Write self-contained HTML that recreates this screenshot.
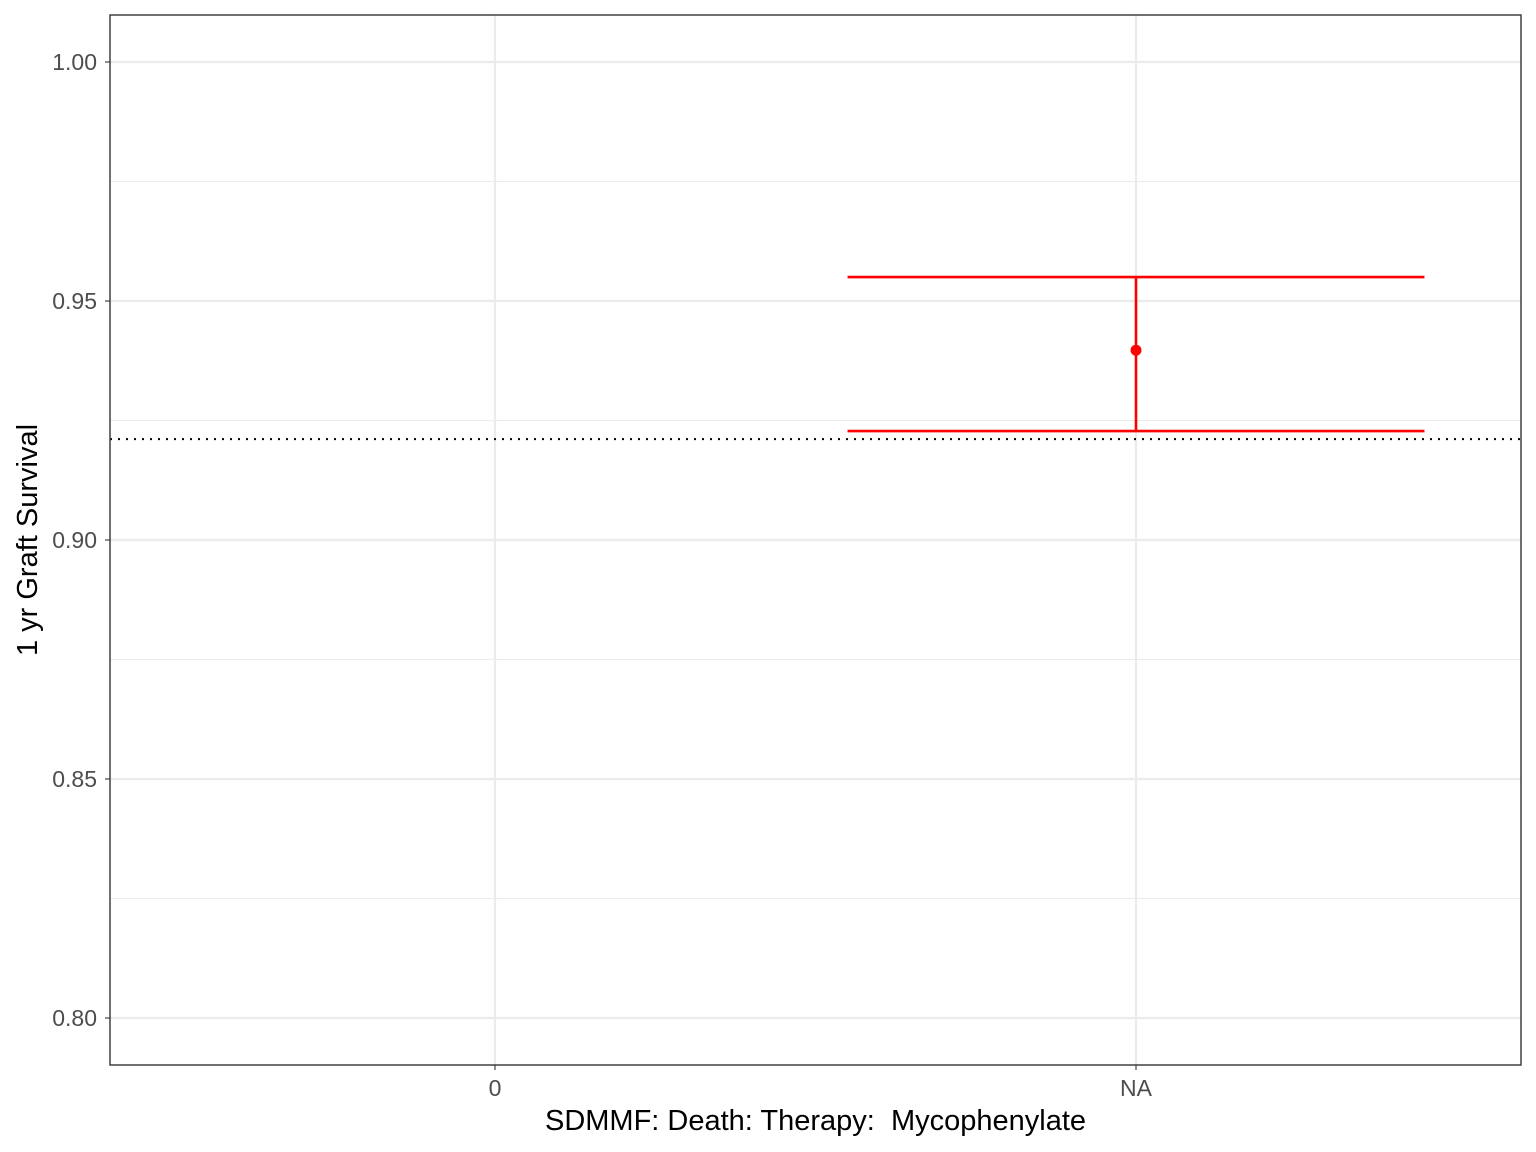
<!DOCTYPE html>
<html><head><meta charset="utf-8"><style>
html,body{margin:0;padding:0;background:#fff;}
svg{display:block;font-family:"Liberation Sans",Arial,sans-serif;}
</style></head><body>
<svg id="chart" width="1536" height="1152" viewBox="0 0 1536 1152"></svg>
<script>
const categories = ["0","NA"];
const pointValues = [null, 0.9397];
const lowerValues = [null, 0.9228];
const upperValues = [null, 0.955];
const referenceValue = [0.9211];
const yTicks = [0.80,0.85,0.90,0.95,1.00];
const yTickLabels = ["0.80","0.85","0.90","0.95","1.00"];
const yMinor = [0.825,0.875,0.925,0.975];

const P={l:110,r:1521,t:15,b:1065};
const yMin=0.79017,yMax=1.00983;
const Y=v=>P.b-(v-yMin)/(yMax-yMin)*(P.b-P.t);
const X=i=>495+i*641;
const bw=641*0.9/2;
const NS="http://www.w3.org/2000/svg";
const svg=document.getElementById('chart');
function el(t,a,txt){const e=document.createElementNS(NS,t);for(const k in a)e.setAttribute(k,a[k]);if(txt!=null)e.textContent=txt;svg.appendChild(e);return e;}

let e=el('rect',{x:P.l,y:P.t,width:P.r-P.l,height:P.b-P.t,fill:'#fff'});


yMinor.forEach(v=>{const g=el('line',{x1:P.l,x2:P.r,y1:Y(v),y2:Y(v),stroke:'#ebebeb','stroke-width':1.1});

});
yTicks.forEach((v,i)=>{const g=el('line',{x1:P.l,x2:P.r,y1:Y(v),y2:Y(v),stroke:'#ebebeb','stroke-width':2.2});


const t=el('line',{x1:P.l-5,x2:P.l,y1:Y(v),y2:Y(v),stroke:'#333','stroke-width':1.1});


const l=el('text',{x:P.l-13,y:Y(v)+8,'text-anchor':'end','font-size':23,fill:'#4d4d4d'},yTickLabels[i]);

});
categories.forEach((c,i)=>{const g=el('line',{x1:X(i),x2:X(i),y1:P.t,y2:P.b,stroke:'#ebebeb','stroke-width':2.2});


const t=el('line',{x1:X(i),x2:X(i),y1:P.b,y2:P.b+5,stroke:'#333','stroke-width':1.1});


const l=el('text',{x:X(i),y:P.b+31,'text-anchor':'middle','font-size':23,fill:'#4d4d4d'},c);

});
const ref=el('line',{x1:P.l,x2:P.r,y1:Y(referenceValue[0]),y2:Y(referenceValue[0]),stroke:'#000','stroke-width':2,'stroke-dasharray':'2,6'});


categories.forEach((c,i)=>{if(pointValues[i]==null)return;
const x=X(i);
const g=document.createElementNS(NS,'g');svg.appendChild(g);


[[x-bw,x+bw,Y(upperValues[i]),Y(upperValues[i])],[x-bw,x+bw,Y(lowerValues[i]),Y(lowerValues[i])],[x,x,Y(upperValues[i]),Y(lowerValues[i])]].forEach(a=>{
const ln=document.createElementNS(NS,'line');ln.setAttribute('x1',a[0]);ln.setAttribute('x2',a[1]);ln.setAttribute('y1',a[2]);ln.setAttribute('y2',a[3]);ln.setAttribute('stroke','#ff0000');ln.setAttribute('stroke-width',2.6);g.appendChild(ln);});
const p=el('circle',{cx:x,cy:Y(pointValues[i]),r:5.5,fill:'#ff0000'});

});
e=el('rect',{x:P.l,y:P.t,width:P.r-P.l,height:P.b-P.t,fill:'none',stroke:'#333','stroke-width':1.4});


e=el('text',{x:(P.l+P.r)/2,y:1130,'text-anchor':'middle','font-size':29,fill:'#000',style:'white-space:pre'},'SDMMF: Death: Therapy:  Mycophenylate');


e=el('text',{x:0,y:0,'text-anchor':'middle','font-size':29,fill:'#000',transform:'translate(37,540) rotate(-90)'},'1 yr Graft Survival');


</script>
</body></html>
